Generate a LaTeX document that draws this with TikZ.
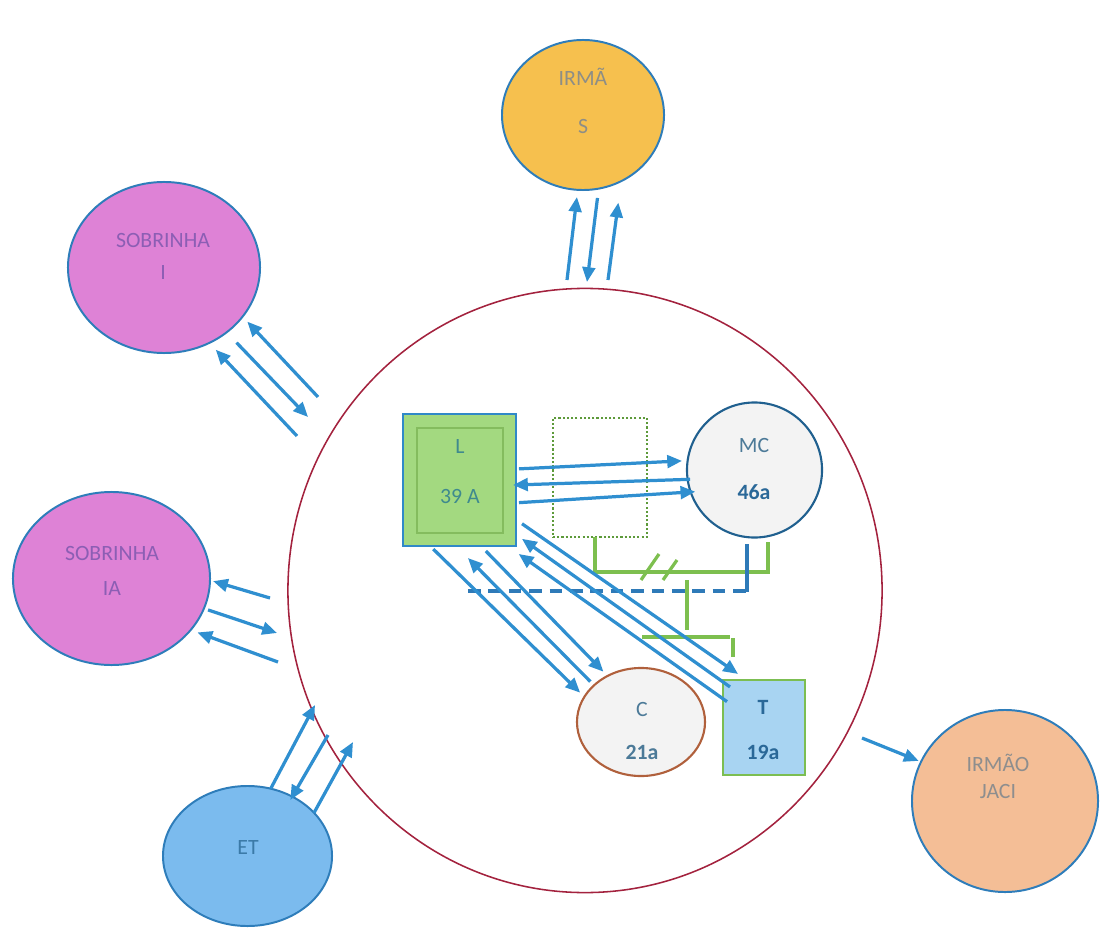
\documentclass[tikz,border=0pt]{standalone}
\usepackage{fontspec}
\setmainfont{Carlito}
\usetikzlibrary{arrows.meta}
\usetikzlibrary{shapes.geometric}

\definecolor{famred}{HTML}{A3223E}
\definecolor{edgeblue}{HTML}{2E7DBA}
\definecolor{relblue}{HTML}{2F8FD0}
\definecolor{irmafill}{HTML}{F6C04E}
\definecolor{irmatext}{HTML}{8E8E86}
\definecolor{sobfill}{HTML}{DE82D6}
\definecolor{sobtext}{HTML}{8C5EB4}
\definecolor{etfill}{HTML}{7BBBEE}
\definecolor{ettext}{HTML}{3B7AA8}
\definecolor{jacifill}{HTML}{F4BE96}
\definecolor{jacitext}{HTML}{8E8E8E}
\definecolor{lgreen}{HTML}{A3D980}
\definecolor{lblue}{HTML}{3089C8}
\definecolor{bevelgreen}{HTML}{84BC5E}
\definecolor{ltext}{HTML}{3F8A8E}
\definecolor{dotgreen}{HTML}{5D9A3A}
\definecolor{mcblue}{HTML}{20608F}
\definecolor{nodegray}{HTML}{F3F3F3}
\definecolor{mctext}{HTML}{4C7A98}
\definecolor{numblue}{HTML}{2A6898}
\definecolor{cbrown}{HTML}{B0603C}
\definecolor{tblue}{HTML}{A8D4F2}
\definecolor{tgreen}{HTML}{7CBE52}
\definecolor{glinegreen}{HTML}{7DBF4F}
\definecolor{blinedark}{HTML}{2E7AB8}

\begin{document}
\begin{tikzpicture}[x=0.025cm,y=-0.025cm,
	every node/.style={outer sep=0pt,inner sep=0pt},
	person/.style={ellipse,draw=edgeblue,line width=1.4pt},
	rel/.style={draw=relblue,line width=2.3pt,-{Triangle[length=10.5pt,width=9pt]}},
	txt/.style={align=center,font=\fontsize{15.5}{18.6}\selectfont},
	gline/.style={draw=glinegreen,line width=2.3pt},
	bline/.style={draw=blinedark,line width=2.2pt}
]
	\useasboundingbox (0,0) rectangle (1102,931);

	% the household
	\node[ellipse,draw=famred,line width=1.1pt,minimum width=14.85cm,minimum height=15.1cm] (fam) at (585,590.5) {};

	% relatives outside
	\node[person,fill=irmafill,minimum width=4.05cm,minimum height=3.75cm] (irma) at (583,115) {};
	\node[txt,text=irmatext] (irmaT) at (583,101) {IRMÃ\\[15.5pt]S};

	\node[person,fill=sobfill,minimum width=4.8cm,minimum height=4.275cm] (sobi) at (164,267.5) {};
	\node[txt,text=sobtext] (sobiT) at (163,256) {SOBRINHA\\[4.2pt]I};

	\node[person,fill=sobfill,minimum width=4.925cm,minimum height=4.325cm] (sobia) at (111.5,578.5) {};
	\node[txt,text=sobtext] (sobiaT) at (112,570.5) {SOBRINHA\\[6.3pt]IA};

	\node[person,fill=etfill,minimum width=4.225cm,minimum height=3.5cm] (et) at (247.5,856) {};
	\node[txt,text=ettext] (etT) at (248,847) {ET};

	\node[person,fill=jacifill,minimum width=4.65cm,minimum height=4.55cm] (jaci) at (1005,801) {};
	\node[txt,text=jacitext] (jaciT) at (998,776.5) {IRMÃO\\[0.6pt]JACI};

	% inside the household
	\node[draw=lblue,fill=lgreen,line width=1.5pt,minimum width=2.825cm,minimum height=3.3cm] (L) at (459.5,480) {};
	\draw[draw=bevelgreen,line width=1.2pt] ([shift={(0.35cm,0.325cm)}]L.south west) rectangle ([shift={(-0.325cm,-0.35cm)}]L.north east);
	\node[txt,text=ltext] (LT) at (460,472) {L\\[17pt]39 A};

	\node[draw=dotgreen,line width=1.5pt,dash pattern=on 1.5pt off 1.5pt,minimum width=2.35cm,minimum height=2.975cm] (gest) at (600,477.5) {};

	\node[circle,draw=mcblue,fill=nodegray,line width=1.5pt,minimum size=3.375cm] (MC) at (754.5,470) {};
	\node[txt,text=mctext] (MCT) at (754,469) {MC\\[15.5pt]\textcolor{numblue}{\textbf{46a}}};

	\node[ellipse,draw=cbrown,fill=nodegray,line width=1.5pt,minimum width=3.2cm,minimum height=2.7cm] (C) at (641,722) {};
	\node[txt,text=mctext] (CT) at (642,731) {C\\[11.3pt]\textbf{21a}};

	\node[draw=tgreen,fill=tblue,line width=1.5pt,minimum width=2.05cm,minimum height=2.375cm] (T) at (764,727.5) {};
	\node[txt,text=numblue] (TT) at (763,730) {\textbf{T}\\[14.1pt]\textbf{19a}};

	% genogram lines
	\draw[gline] (595,537) -- (595,572) -- (768,572) -- (768,542);
	\draw[gline] (641,580) -- (659,554);
	\draw[gline] (663,580) -- (677,560);
	\draw[bline] (747,544) -- (747,592);
	\draw[bline,dash pattern=on 9pt off 5.5pt] (468,591) -- (747,591);
	\draw[gline] (687,580) -- (687,630);
	\draw[gline] (642,637) -- (730,637);
	\draw[gline] (733,638) -- (733,657);

	% free ends near the household
	\coordinate (irmaA) at (567,280);
	\coordinate (irmaB) at (587,282);
	\coordinate (irmaC) at (608,280);
	\coordinate (sobiA) at (318,397);
	\coordinate (sobiB) at (308,417);
	\coordinate (sobiC) at (297,436);
	\coordinate (sobiaA) at (270,598);
	\coordinate (sobiaB) at (277,633);
	\coordinate (sobiaC) at (278,662);
	\coordinate (etA) at (315,705);
	\coordinate (etB) at (328,735);
	\coordinate (etC) at (353,742);
	\coordinate (jaciA) at (862,738);

	% relations outside
	\draw[rel,shorten >=5.1pt] (irmaA) -- (irma.-94.7);
	\draw[rel,shorten <=6.7pt] (irma.-78.4) -- (irmaB);
	\draw[rel,shorten >=15.4pt] (irmaC) -- (irma.-60.6);

	\draw[rel,shorten >=4.9pt] (sobiA) -- (sobi.-32.3);
	\draw[rel,shorten <=10.2pt] (sobi.-46.4) -- (sobiB);
	\draw[rel,shorten >=6.7pt] (sobiC) -- (sobi.-59.6);

	\draw[rel,shorten >=2.3pt] (sobiaA) -- (sobia.-1.5);
	\draw[rel,shorten <=3.1pt] (sobia.-18.1) -- (sobiaB);
	\draw[rel,shorten >=5.1pt] (sobiaC) -- (sobia.-33.5);

	\draw[rel] (et.71.7) -- (etA);
	\draw[rel,shorten >=-2.8pt] (etB) -- (et.53.2);
	\draw[rel] (et.33.9) -- (etC);

	\draw[rel,shorten >=1.8pt] (jaciA) -- (jaci.155.8);

	% relations inside
	\draw[rel,shorten <=2.1pt,shorten >=4pt] (L.11.9) -- (MC.172.2);
	\draw[rel,shorten <=-1.7pt,shorten >=-2.1pt] (MC.-172.3) -- (L.-5.1);
	\draw[rel,shorten <=2.1pt,shorten >=-3.3pt] (L.-22.3) -- (MC.-161.6);

	\draw[rel,shorten <=3.1pt,shorten >=4.2pt] (L.-114.2) -- (C.156.3);
	\draw[rel,shorten <=3.7pt,shorten >=12pt] (C.142.5) -- (L.-93.8);
	\draw[rel,shorten <=5pt,shorten >=4.2pt] (L.-72.7) -- (C.126.5);

	\draw[rel,shorten <=5.2pt,shorten >=7.5pt] (L.-35.2) -- (T.110.1);
	\draw[rel,shorten <=-6.1pt,shorten >=5.2pt] (T.132) -- (L.-44.6);
	\draw[rel,shorten <=-3.5pt,shorten >=9.8pt] (T.145.4) -- (L.-54.4);
\end{tikzpicture}
\end{document}
